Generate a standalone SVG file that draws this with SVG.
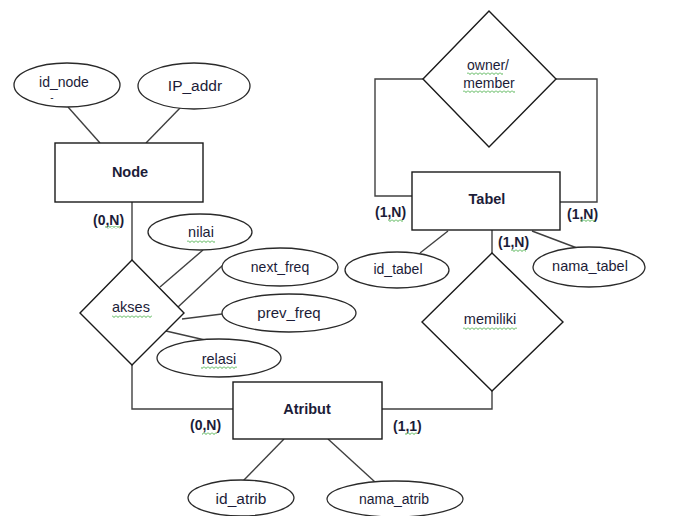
<svg xmlns="http://www.w3.org/2000/svg" width="684" height="516" viewBox="0 0 684 516">
  <defs>
    <style>
      .shape { fill: #ffffff; stroke: #1a1a1a; stroke-width: 1.4; }
      .attr { fill: #ffffff; stroke: #2a2a2a; stroke-width: 1.3; }
      .link { fill: none; stroke: #404040; stroke-width: 1.4; }
      text { font-family: "Liberation Sans", Arial, sans-serif; font-size: 14.5px; fill: #1c1c38; text-anchor: middle; }
      .ent { font-weight: bold; }
      .card { font-weight: bold; font-size: 14px; text-anchor: start; }
      .sm { font-size: 14px; }
    </style>
    <!-- spell-check style wavy underline -->
    <pattern id="wave" width="4" height="3" patternUnits="userSpaceOnUse">
      <path d="M0 0.5 L2 2.5 L4 0.5" fill="none" stroke="#3aa83a" stroke-width="0.9"/>
    </pattern>
  </defs>

  <rect width="684" height="516" fill="#ffffff"/>

  <!-- connectors -->
  <g id="connectors">
    <line class="link" x1="68" y1="107" x2="100" y2="143"/>
    <line class="link" x1="181" y1="107" x2="146" y2="143"/>
    <line class="link" x1="132" y1="202" x2="132" y2="260"/>
    <polyline class="link" points="132,365 132,409 233,409"/>
    <line class="link" x1="203" y1="250" x2="160" y2="287"/>
    <line class="link" x1="223" y1="265" x2="178" y2="307"/>
    <line class="link" x1="182" y1="319" x2="222" y2="314"/>
    <line class="link" x1="166" y1="331" x2="205" y2="340"/>
    <polyline class="link" points="423,79 375,79 375,196 412,196"/>
    <polyline class="link" points="556,79 597,79 597,202 560,202"/>
    <line class="link" x1="492" y1="230" x2="492" y2="253"/>
    <polyline class="link" points="492,391 492,409 382,409"/>
    <line class="link" x1="420" y1="253" x2="448" y2="231"/>
    <line class="link" x1="532" y1="231" x2="577" y2="248"/>
    <line class="link" x1="243" y1="481" x2="284" y2="439"/>
    <line class="link" x1="328" y1="439" x2="375" y2="482"/>
  </g>

  <!-- entities -->
  <g id="node-entity">
    <rect class="shape" x="55" y="143" width="148" height="59"/>
    <text class="ent" x="130" y="177">Node</text>
  </g>
  <g id="tabel-entity">
    <rect class="shape" x="412" y="172" width="148" height="58"/>
    <text class="ent" x="487" y="204">Tabel</text>
  </g>
  <g id="atribut-entity">
    <rect class="shape" x="233" y="382" width="149" height="57"/>
    <text class="ent" x="307" y="414">Atribut</text>
  </g>

  <!-- relationships -->
  <g id="akses-rel">
    <polygon class="shape" points="132,260 184,313 132,365 80,313"/>
    <text x="131" y="312">akses</text>
    <rect x="112" y="315" width="40" height="3" fill="url(#wave)"/>
  </g>
  <g id="owner-member-rel">
    <polygon class="shape" points="489,11 556,79 489,147 423,79"/>
    <text class="sm" x="488" y="70">owner/</text>
    <text class="sm" x="489" y="88">member</text>
    <rect x="467" y="72" width="36" height="3" fill="url(#wave)"/>
    <rect x="463" y="90" width="52" height="3" fill="url(#wave)"/>
  </g>
  <g id="memiliki-rel">
    <polygon class="shape" points="492,253 563,322 492,391 422,322"/>
    <text x="490" y="324">memiliki</text>
    <rect x="463" y="327" width="54" height="3" fill="url(#wave)"/>
  </g>

  <!-- attributes -->
  <g id="id-node-attr">
    <ellipse class="attr" cx="67" cy="85" rx="53" ry="22"/>
    <text class="sm" x="64" y="87">id_node</text>
    <text x="52" y="101" style="font-size:10px">-</text>
  </g>
  <g id="ip-addr-attr">
    <ellipse class="attr" cx="194" cy="86" rx="56" ry="23"/>
    <text x="195" y="91" style="font-size:15.5px">IP_addr</text>
  </g>
  <g id="nilai-attr">
    <ellipse class="attr" cx="200" cy="232" rx="52" ry="18"/>
    <text x="201" y="237">nilai</text>
    <rect x="187" y="240" width="28" height="3" fill="url(#wave)"/>
  </g>
  <g id="next-freq-attr">
    <ellipse class="attr" cx="280" cy="267" rx="58" ry="19"/>
    <text class="sm" x="280" y="272">next_freq</text>
  </g>
  <g id="prev-freq-attr">
    <ellipse class="attr" cx="289" cy="313" rx="67" ry="19"/>
    <text x="289" y="318" style="font-size:15px">prev_freq</text>
  </g>
  <g id="relasi-attr">
    <ellipse class="attr" cx="219" cy="358" rx="62" ry="19"/>
    <text x="219" y="364">relasi</text>
    <rect x="201" y="366" width="36" height="3" fill="url(#wave)"/>
  </g>
  <g id="id-tabel-attr">
    <ellipse class="attr" cx="397" cy="270" rx="52" ry="18"/>
    <text class="sm" x="398" y="274">id_tabel</text>
  </g>
  <g id="nama-tabel-attr">
    <ellipse class="attr" cx="589" cy="267" rx="56" ry="20"/>
    <text x="590" y="271">nama_tabel</text>
  </g>
  <g id="id-atrib-attr">
    <ellipse class="attr" cx="241" cy="498" rx="53" ry="18"/>
    <text x="241" y="504" style="font-size:15.5px">id_atrib</text>
  </g>
  <g id="nama-atrib-attr">
    <ellipse class="attr" cx="395" cy="499" rx="68" ry="18"/>
    <text class="sm" x="394" y="504">nama_atrib</text>
  </g>

  <!-- cardinalities -->
  <g id="cardinalities">
    <text class="card" x="93" y="225">(0,N)</text>
    <rect x="105" y="226" width="15" height="3" fill="url(#wave)"/>
    <text class="card" x="375" y="217">(1,N)</text>
    <rect x="388" y="219" width="15" height="3" fill="url(#wave)"/>
    <text class="card" x="567" y="219">(1,N)</text>
    <rect x="580" y="219" width="15" height="3" fill="url(#wave)"/>
    <text class="card" x="498" y="247">(1,N)</text>
    <rect x="511" y="249" width="15" height="3" fill="url(#wave)"/>
    <text class="card" x="190" y="430">(0,N)</text>
    <rect x="202" y="432" width="15" height="3" fill="url(#wave)"/>
    <text class="card" x="393" y="431">(1,1)</text>
    <rect x="405" y="432" width="12" height="3" fill="url(#wave)"/>
  </g>
</svg>
